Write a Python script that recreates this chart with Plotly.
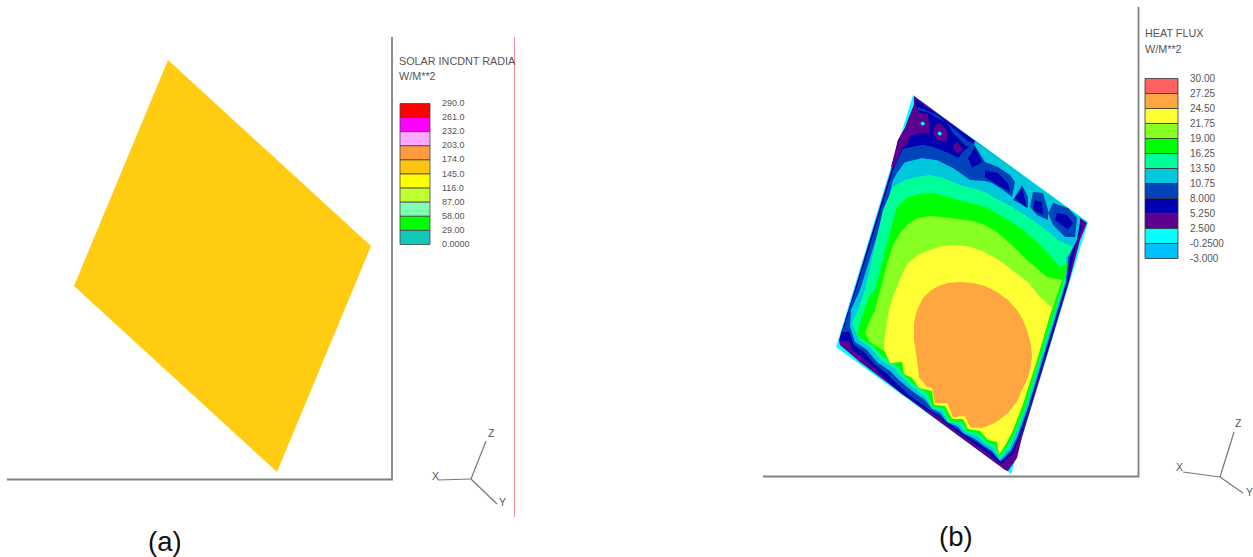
import plotly.graph_objects as go

# ---------- legend contents ----------
solar_title = "SOLAR INCDNT RADIA"
flux_title = "HEAT FLUX"
unit_label = "W/M**2"
solar_levels = ["290.0", "261.0", "232.0", "203.0", "174.0", "145.0", "116.0", "87.00", "58.00", "29.00", "0.0000"]
solar_colors = ["#FF0000", "#FF00FF", "#FFA8FF", "#FF9A40", "#FFC40F", "#FFFF00", "#C0FF30", "#80FFB0", "#00FF00", "#10C8B8"]
flux_levels = ["30.00", "27.25", "24.50", "21.75", "19.00", "16.25", "13.50", "10.75", "8.000", "5.250", "2.500", "-0.2500", "-3.000"]
flux_colors = ["#FF6060", "#FFA640", "#FFFF33", "#88FF22", "#00FF00", "#00FF99", "#00C8DC", "#0044BB", "#0000B0", "#5B0091", "#00FFFF", "#00BFFF"]

# ---------- panel (a): uniform flux sheet, outline in picture units ----------
solar_sheet = [(168, 60), (371, 246), (277, 472), (74, 286)]

# ---------- panel (b): contour regions ----------
band_cyan = [(913, 95), (1088, 222), (1011, 474), (836, 347)]
band_purple = [(914, 96), (1087, 223), (1080, 240), (1075, 258), (1069, 282), (1045.5, 360), (1031, 407), (1022, 437),
               (1017, 458), (1008, 471), (1005, 470), (925, 411), (860, 362), (840, 345), (839, 341), (842, 331),
               (891, 170), (898, 140), (905, 128), (909, 117), (914, 105)]
band_navy = [(841, 333), (848, 312), (858, 280), (893, 167), (897, 155), (906, 133), (914, 112), (916, 100), (975, 141),
             (1082, 226), (1077, 240), (1073, 258), (1068, 282), (1044.5, 360), (1030, 407), (1020, 437), (1013, 453),
             (1001, 464), (985, 451), (975, 444), (958, 432), (945, 422), (938, 416), (930, 412), (902, 394), (895, 388),
             (882, 375), (872, 366), (862, 357), (852, 350), (849, 341), (839, 341)]
band_blue = [(845, 325), (849, 310), (856, 290), (893, 170), (903, 149), (922, 145), (933, 147), (948, 153), (958, 158),
             (965, 150), (974, 144), (985, 162), (998, 167), (1010, 175), (1015, 182), (1030, 200), (1076, 232), (1074, 240),
             (1070, 258), (1067, 282), (1043.5, 360), (1029, 407), (1019, 436), (1012, 452), (1001, 462), (992, 453),
             (983, 447), (975, 441), (963, 434), (958, 430), (945, 421), (938, 415), (931, 411), (919, 402), (909, 395),
             (897, 384), (887, 374), (874, 364), (865, 353), (854, 345), (849, 332), (841, 332)]
channel_blue = [(918, 107), (935, 114), (952, 127), (968, 141), (976, 145), (970, 147), (965, 145), (953, 133), (947, 123),
                (937, 118), (928, 112), (918, 110)]
band_teal = [(850, 327), (851, 310), (860, 290), (888, 200), (893, 180), (897, 173), (905, 162), (922, 158), (937, 160),
             (953, 168), (972, 150), (975, 141), (1080, 217), (1080, 222), (1077, 240), (1068, 258), (1066, 282), (1042, 360),
             (1028, 407), (1018, 435), (1011, 450), (1000, 461), (992, 451), (983, 445), (975, 439), (963, 433), (958, 427),
             (947, 422), (940, 413), (932, 409), (925, 400), (912, 391), (900, 381), (890, 371), (877, 362), (867, 350), (855, 342)]
patch_blue = [
    [(897, 167), (903, 149), (922, 145), (933, 147), (948, 153), (958, 158), (965, 150), (974, 144), (985, 162), (998, 167),
     (1010, 175), (1015, 182), (1012, 197), (1003, 190), (992, 183), (985, 181), (970, 180), (953, 168), (937, 160), (922, 158),
     (905, 162)],
    [(1022, 185), (1028, 197), (1028, 208), (1013, 200)],
    [(1033, 192), (1043, 193), (1048, 210), (1048, 220), (1037, 215), (1030, 207)],
    [(1053, 203), (1068, 208), (1077, 218), (1075, 237), (1065, 237), (1053, 225), (1048, 213)],
]
patch_navy = [
    [(975, 147), (982, 162), (972, 168), (968, 158)],
    [(985, 170), (998, 173), (1008, 183), (1010, 192), (998, 185), (985, 177)],
    [(1022, 188), (1027, 208), (1015, 198)],
    [(1035, 200), (1042, 202), (1043, 215), (1033, 210)],
    [(1057, 213), (1067, 215), (1073, 223), (1068, 230), (1055, 220)],
]
patch_purple = [
    [(914, 98), (916, 106), (920, 113), (928, 114), (930, 133), (918, 133), (910, 137), (907, 145), (903, 147), (895, 165),
     (891, 167), (898, 140), (905, 128), (909, 117), (914, 105)],
    [(935, 125), (940, 123), (947, 130), (947, 142), (937, 140), (933, 133)],
    [(953, 145), (958, 142), (963, 150), (958, 153), (954, 150)],
]
spot_cyan = [
    [(922, 121.5), (924.5, 122.5), (924.5, 125), (922, 125.5), (920.5, 123.5)],
    [(939, 131.5), (941.5, 132.5), (941.5, 135), (939, 135.5), (937.5, 133.5)],
]
band_spring = [(852, 323), (858, 310), (865, 290), (883, 210), (893, 187), (905, 180), (917, 177), (930, 175), (943, 178),
               (960, 185), (975, 189), (985, 192), (995, 198), (1012, 207), (1028, 217), (1042, 227), (1058, 240), (1073, 247),
               (1066, 258), (1065, 282), (1040.5, 360), (1026.5, 407), (1016, 433), (1010, 447), (1000, 459), (993, 448),
               (985, 443), (977, 436), (965, 432), (960, 425), (948, 422), (942, 411), (932, 408), (925, 396), (914, 388),
               (902, 377), (894, 368), (880, 359), (870, 347), (859, 340)]
band_green = [(857, 333), (860, 322), (864, 310), (870, 295), (875, 290), (887, 243), (897, 207), (908, 197), (920, 194),
              (933, 193), (948, 197), (963, 201), (975, 204), (985, 207), (1002, 216), (1022, 229), (1038, 243), (1045, 250),
              (1060, 267), (1068, 263), (1063.5, 282), (1039, 360), (1025, 407), (1015, 432), (1008, 445), (999, 457), (995, 445),
              (987, 442), (978, 433), (967, 431), (962, 422), (950, 421), (943, 408), (933, 407), (927, 393), (915, 385),
              (904, 375), (897, 366), (882, 356), (872, 345), (860, 338)]
band_lime = [(865, 333), (870, 320), (875, 310), (883, 280), (888, 260), (893, 245), (900, 233), (908, 224), (917, 218),
             (930, 216), (943, 217), (958, 219), (973, 221), (985, 225), (997, 232), (1013, 246), (1027, 260), (1047, 277),
             (1062, 280), (1052, 310), (1035, 345), (900, 340), (884, 351), (870, 342)]
band_yellow = [(884, 350), (885, 335), (889, 310), (893, 297), (897, 287), (902, 274), (908, 263), (918, 255), (930, 250),
               (942, 246), (953, 245), (967, 246), (980, 250), (992, 256), (1003, 263), (1013, 271), (1028, 282), (1040, 297),
               (1052, 308), (1037, 360), (1022, 407), (1013, 430), (1007, 442), (999, 455), (997, 442), (988, 440), (980, 431),
               (968, 429), (963, 419), (952, 419), (945, 406), (934, 405), (932, 391), (919, 388), (912, 378), (904, 374),
               (902, 362), (890, 363)]
band_orange = [(914, 340), (914, 323), (917, 310), (923, 298), (930, 291), (938, 286), (948, 283), (960, 282), (973, 283),
               (985, 286), (997, 292), (1008, 300), (1017, 310), (1023, 320), (1027, 330), (1031, 345), (1032, 357), (1030, 370),
               (1027, 380), (1021, 392), (1018, 400), (1008, 413), (995, 423), (982, 428), (970, 427), (965, 416), (953, 417),
               (947, 403), (935, 403), (932, 388), (927, 387), (919, 377), (917, 360)]

flux_layers = [
    (band_cyan, "#00FFFF"), (band_purple, "#5B0091"), (band_navy, "#0000B0"), (band_blue, "#0044BB"),
    (channel_blue, "#0044BB"), (band_teal, "#00C8DC"),
    *[(p, "#0044BB") for p in patch_blue], *[(p, "#0000B0") for p in patch_navy],
    *[(p, "#5B0091") for p in patch_purple], *[(p, "#00FFFF") for p in spot_cyan],
    (band_spring, "#00FF99"), (band_green, "#00FF00"), (band_lime, "#88FF22"), (band_yellow, "#FFFF33"), (band_orange, "#FFA640"),
]

# ---------- frame lines and axis triads ----------
frame_lines = [
    ([7, 392, 392], [479.5, 479.5, 37], "#808080", 1.8),
    ([763, 1138.5, 1138.5], [476.5, 476.5, 7], "#808080", 1.8),
    ([514.5, 514.5], [37, 517], "#F0909A", 1),
]
triad_a = {"o": (471, 479), "X": (438, 480), "Y": (497, 504), "Z": (486, 441)}
triad_b = {"o": (1220, 477), "X": (1183, 472), "Y": (1243, 493), "Z": (1234, 432)}
triad_text = [("X", 435, 476), ("Y", 502, 502), ("Z", 491, 433), ("X", 1179, 467), ("Y", 1249, 492), ("Z", 1238, 423)]

fig = go.Figure()


def poly(points, color, line_color=None, line_width=0):
    xs = [p[0] for p in points] + [points[0][0]]
    ys = [p[1] for p in points] + [points[0][1]]
    fig.add_trace(go.Scatter(x=xs, y=ys, mode="lines", fill="toself", fillcolor=color,
                             line=dict(color=line_color or color, width=line_width),
                             hoverinfo="skip", showlegend=False))


def polyline(xs, ys, color, width):
    fig.add_trace(go.Scatter(x=xs, y=ys, mode="lines", line=dict(color=color, width=width),
                             hoverinfo="skip", showlegend=False))


def label(text, x, y, size, color="#555555", anchor="left"):
    fig.add_annotation(x=x, y=y, xref="x", yref="y", text=text, showarrow=False, xanchor=anchor, yanchor="middle",
                       font=dict(family="Liberation Sans", size=size, color=color), borderpad=0, borderwidth=0)


poly(solar_sheet, "#FFCC11")
for pts, col in flux_layers:
    poly(pts, col)

for xs, ys, col, w in frame_lines:
    polyline(xs, ys, col, w)

for tr in (triad_a, triad_b):
    for key in "XYZ":
        polyline([tr["o"][0], tr[key][0]], [tr["o"][1], tr[key][1]], "#777777", 1.2)
for t, x, y in triad_text:
    label(t, x, y, 10.5, anchor="center")

# legends
a_top, a_step, a_l, a_r = 103.5, 14.1, 400, 430
for i, c in enumerate(solar_colors):
    poly([(a_l, a_top + i * a_step), (a_r, a_top + i * a_step), (a_r, a_top + (i + 1) * a_step), (a_l, a_top + (i + 1) * a_step)],
         c, "#444444", 0.8)
for i, t in enumerate(solar_levels):
    label(t, 442, a_top + i * a_step - 0.5, 9)
b_top, b_step, b_l, b_r = 78.5, 15.0, 1145, 1178
for i, c in enumerate(flux_colors):
    poly([(b_l, b_top + i * b_step), (b_r, b_top + i * b_step), (b_r, b_top + (i + 1) * b_step), (b_l, b_top + (i + 1) * b_step)],
         c, "#333333", 0.8)
for i, t in enumerate(flux_levels):
    label(t, 1190, b_top + i * b_step, 10)

label(solar_title, 399, 60.5, 10.8)
label(unit_label, 399, 76, 10.8)
label(flux_title, 1145, 33, 10.8)
label(unit_label, 1145, 49, 10.8)
label("(a)", 164.5, 541, 27.5, "#111111", "center")
label("(b)", 956, 536, 27.5, "#111111", "center")

fig.update_layout(
    width=1253, height=557, margin=dict(l=0, r=0, t=0, b=0),
    paper_bgcolor="white", plot_bgcolor="white", showlegend=False,
    xaxis=dict(range=[0, 1253], visible=False, fixedrange=True),
    yaxis=dict(range=[557, 0], visible=False, fixedrange=True),
)
fig.write_html("out.html", config={"displayModeBar": False},
               post_script="document.body.style.margin='0';document.body.style.overflow='hidden';")
